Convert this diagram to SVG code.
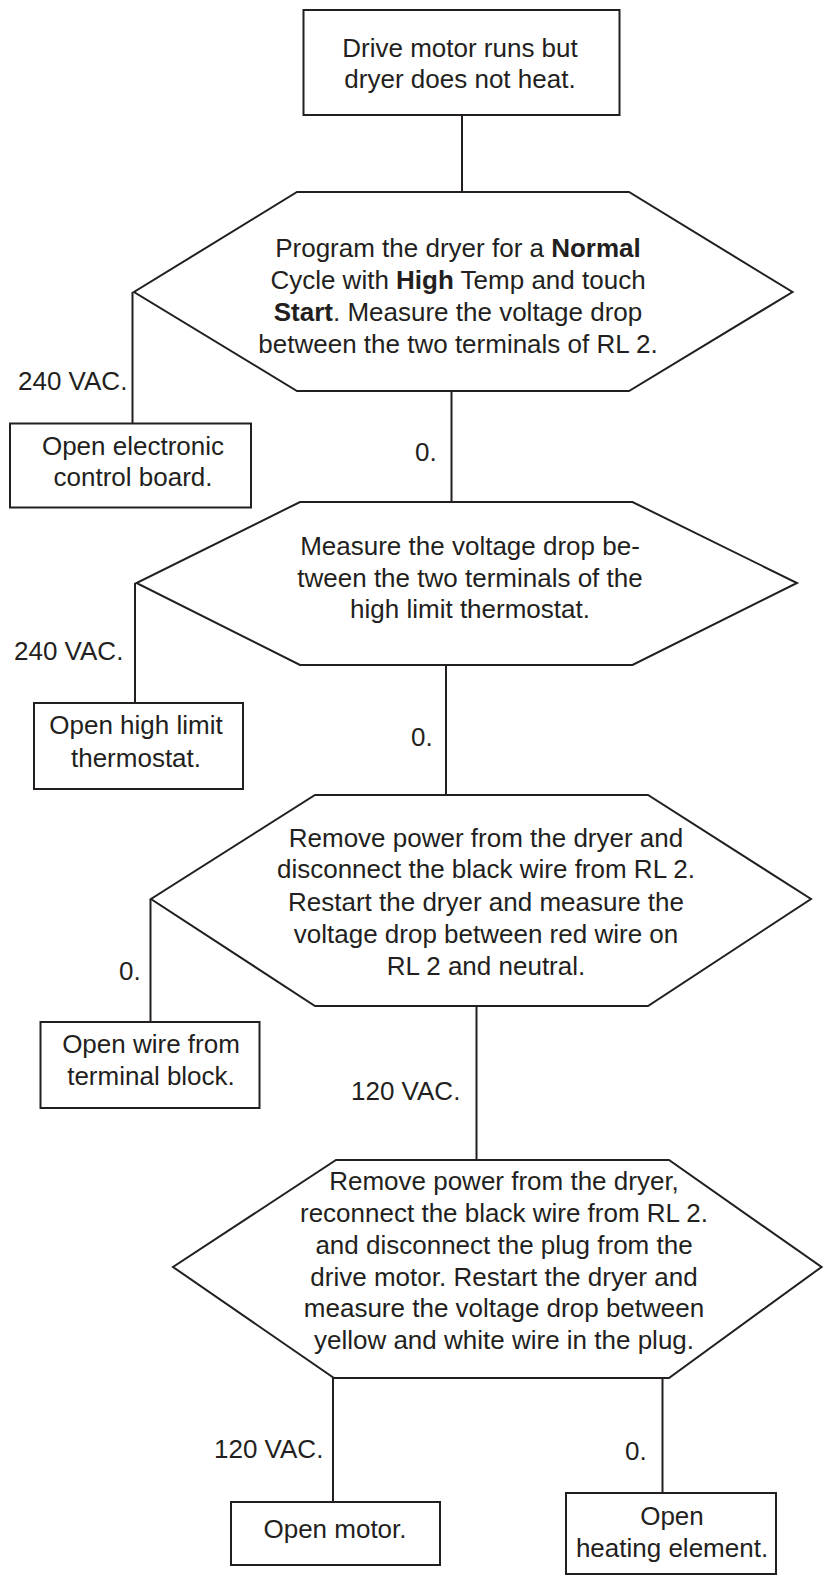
<svg xmlns="http://www.w3.org/2000/svg" width="823" height="1575" viewBox="0 0 823 1575">
<style>
.s{fill:#fff;stroke:#231f20;stroke-width:2}
.c{fill:none;stroke:#231f20;stroke-width:2}
text{font-family:"Liberation Sans",Arial,sans-serif;font-size:26px;fill:#231f20}
.m{text-anchor:middle}
.b{font-weight:bold}
</style>
<rect width="823" height="1575" fill="#fff"/>
<g id="connectors">
<line class="c" x1="462" y1="115" x2="462" y2="192"/>
<line class="c" x1="132.5" y1="292" x2="132.5" y2="423"/>
<line class="c" x1="451.5" y1="391" x2="451.5" y2="502"/>
<line class="c" x1="135" y1="583" x2="135" y2="703"/>
<line class="c" x1="446" y1="665" x2="446" y2="795"/>
<line class="c" x1="150.5" y1="899" x2="150.5" y2="1022"/>
<line class="c" x1="476.5" y1="1006" x2="476.5" y2="1160"/>
<line class="c" x1="333" y1="1378" x2="333" y2="1502"/>
<line class="c" x1="662.5" y1="1378" x2="662.5" y2="1493"/>
<text x="18" y="390">240 VAC.</text>
<text x="415" y="461">0.</text>
<text x="14" y="660">240 VAC.</text>
<text x="411" y="746">0.</text>
<text x="119" y="980">0.</text>
<text x="351" y="1100">120 VAC.</text>
<text x="214" y="1458">120 VAC.</text>
<text x="625" y="1460">0.</text>
</g>
<g id="start">
<rect class="s" x="303.5" y="10" width="316" height="105"/>
<text class="m" x="460" y="57">Drive motor runs but</text>
<text class="m" x="460" y="88">dryer does not heat.</text>
</g>
<g id="d1">
<polygon class="s" points="297,192 629,192 792.5,292 629,391 297,391 134,292"/>
<text class="m" x="458" y="257">Program the dryer for a <tspan class="b">Normal</tspan></text>
<text class="m" x="458" y="289">Cycle with <tspan class="b">High</tspan> Temp and touch</text>
<text class="m" x="458" y="321"><tspan class="b">Start</tspan>. Measure the voltage drop</text>
<text class="m" x="458" y="353">between the two terminals of RL 2.</text>
</g>
<g id="b1">
<rect class="s" x="10" y="423.5" width="241" height="84"/>
<text class="m" x="133" y="455">Open electronic</text>
<text class="m" x="133" y="486">control board.</text>
</g>
<g id="d2">
<polygon class="s" points="300,502 632.5,502 797,583 632.5,665 300,665 136.5,583"/>
<text class="m" x="470" y="555">Measure the voltage drop be-</text>
<text class="m" x="470" y="587">tween the two terminals of the</text>
<text class="m" x="470" y="618">high limit thermostat.</text>
</g>
<g id="b2">
<rect class="s" x="34" y="703" width="209" height="86"/>
<text class="m" x="136" y="734">Open high limit</text>
<text class="m" x="136" y="767">thermostat.</text>
</g>
<g id="d3">
<polygon class="s" points="315,795 648,795 811,899 648,1006 315,1006 151,899"/>
<text class="m" x="486" y="847">Remove power from the dryer and</text>
<text class="m" x="486" y="878">disconnect the black wire from RL 2.</text>
<text class="m" x="486" y="911">Restart the dryer and measure the</text>
<text class="m" x="486" y="943">voltage drop between red wire on</text>
<text class="m" x="486" y="975">RL 2 and neutral.</text>
</g>
<g id="b3">
<rect class="s" x="40.5" y="1022" width="219" height="86"/>
<text class="m" x="151" y="1053">Open wire from</text>
<text class="m" x="151" y="1085">terminal block.</text>
</g>
<g id="d4">
<polygon class="s" points="336,1160 669,1160 821.5,1267 669,1378 334,1378 173,1267"/>
<text class="m" x="504" y="1190">Remove power from the dryer,</text>
<text class="m" x="504" y="1222">reconnect the black wire from RL 2.</text>
<text class="m" x="504" y="1254">and disconnect the plug from the</text>
<text class="m" x="504" y="1286">drive motor. Restart the dryer and</text>
<text class="m" x="504" y="1317">measure the voltage drop between</text>
<text class="m" x="504" y="1349">yellow and white wire in the plug.</text>
</g>
<g id="b4">
<rect class="s" x="231" y="1502" width="209" height="63"/>
<text class="m" x="335" y="1538">Open motor.</text>
</g>
<g id="b5">
<rect class="s" x="566" y="1493" width="210" height="81"/>
<text class="m" x="672" y="1525">Open</text>
<text class="m" x="672" y="1557">heating element.</text>
</g>
</svg>
